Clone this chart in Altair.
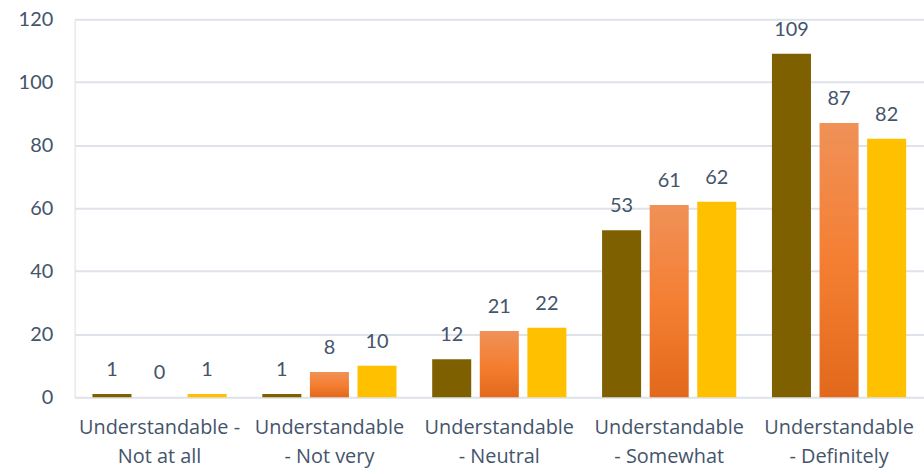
import altair as alt
import pandas as pd

# Response categories (newline marks where the axis label wraps)
categories = [
    "Understandable -\nNot at all",
    "Understandable\n- Not very",
    "Understandable\n- Neutral",
    "Understandable\n- Somewhat",
    "Understandable\n- Definitely",
]
series = ["Group A", "Group B", "Group C"]
values_a = [1, 1, 12, 53, 109]
values_b = [0, 8, 21, 61, 87]
values_c = [1, 10, 22, 62, 82]

rows = []
for s, vals in zip(series, [values_a, values_b, values_c]):
    for c, v in zip(categories, vals):
        rows.append({"category": c, "series": s, "value": v})
df = pd.DataFrame(rows)

TEXT = "#44546A"
FONT = "Lato"

brown = "#7F6000"
orange_grad = alt.Gradient(
    gradient="linear",
    x1=0, y1=0, x2=0, y2=1,
    stops=[
        alt.GradientStop(color="#F09158", offset=0),
        alt.GradientStop(color="#F47F33", offset=0.5),
        alt.GradientStop(color="#E2691B", offset=1),
    ],
)
yellow = "#FFC000"

x_enc = alt.X(
    "category:N",
    sort=categories,
    scale=alt.Scale(paddingInner=0.21, paddingOuter=0.105),
    axis=alt.Axis(
        title=None,
        labelAngle=0,
        labelExpr="split(datum.label, '\\n')",
        labelFont="Open Sans",
        labelFontSize=20,
        labelColor=TEXT,
        labelPadding=21,
        labelLineHeight=29,
        domain=False,
        ticks=False,
        grid=False,
    ),
)
xoff_enc = alt.XOffset(
    "series:N",
    sort=series,
    scale=alt.Scale(domain=series, paddingInner=0.18, paddingOuter=0),
)
y_enc = alt.Y(
    "value:Q",
    scale=alt.Scale(domain=[0, 120], nice=False),
    axis=alt.Axis(
        title=None,
        values=[0, 20, 40, 60, 80, 100, 120],
        labelFont=FONT,
        labelFontSize=20,
        labelColor=TEXT,
        labelPadding=22,
        domain=False,
        ticks=False,
        gridColor="#DEE3EA",
        gridWidth=2,
    ),
)

base = alt.Chart(df).encode(x=x_enc, xOffset=xoff_enc, y=y_enc)

layers = []
for s, col in zip(series, [brown, orange_grad, yellow]):
    layers.append(
        base.transform_filter(alt.datum.series == s).mark_bar(color=col)
    )

labels = base.mark_text(
    dy=-24, font=FONT, fontSize=20, color=TEXT, baseline="middle"
).encode(text="value:Q")

chart = (
    alt.layer(*layers, labels)
    .properties(
        width=854,
        height=380,
        autosize=alt.AutoSizeParams(type="none"),
        padding={"left": 75, "top": 18, "right": 0, "bottom": 76},
    )
    .configure_view(stroke=None)
    .configure(background="white")
)

chart.save("out.html", embed_options={"renderer": "svg", "actions": False})
